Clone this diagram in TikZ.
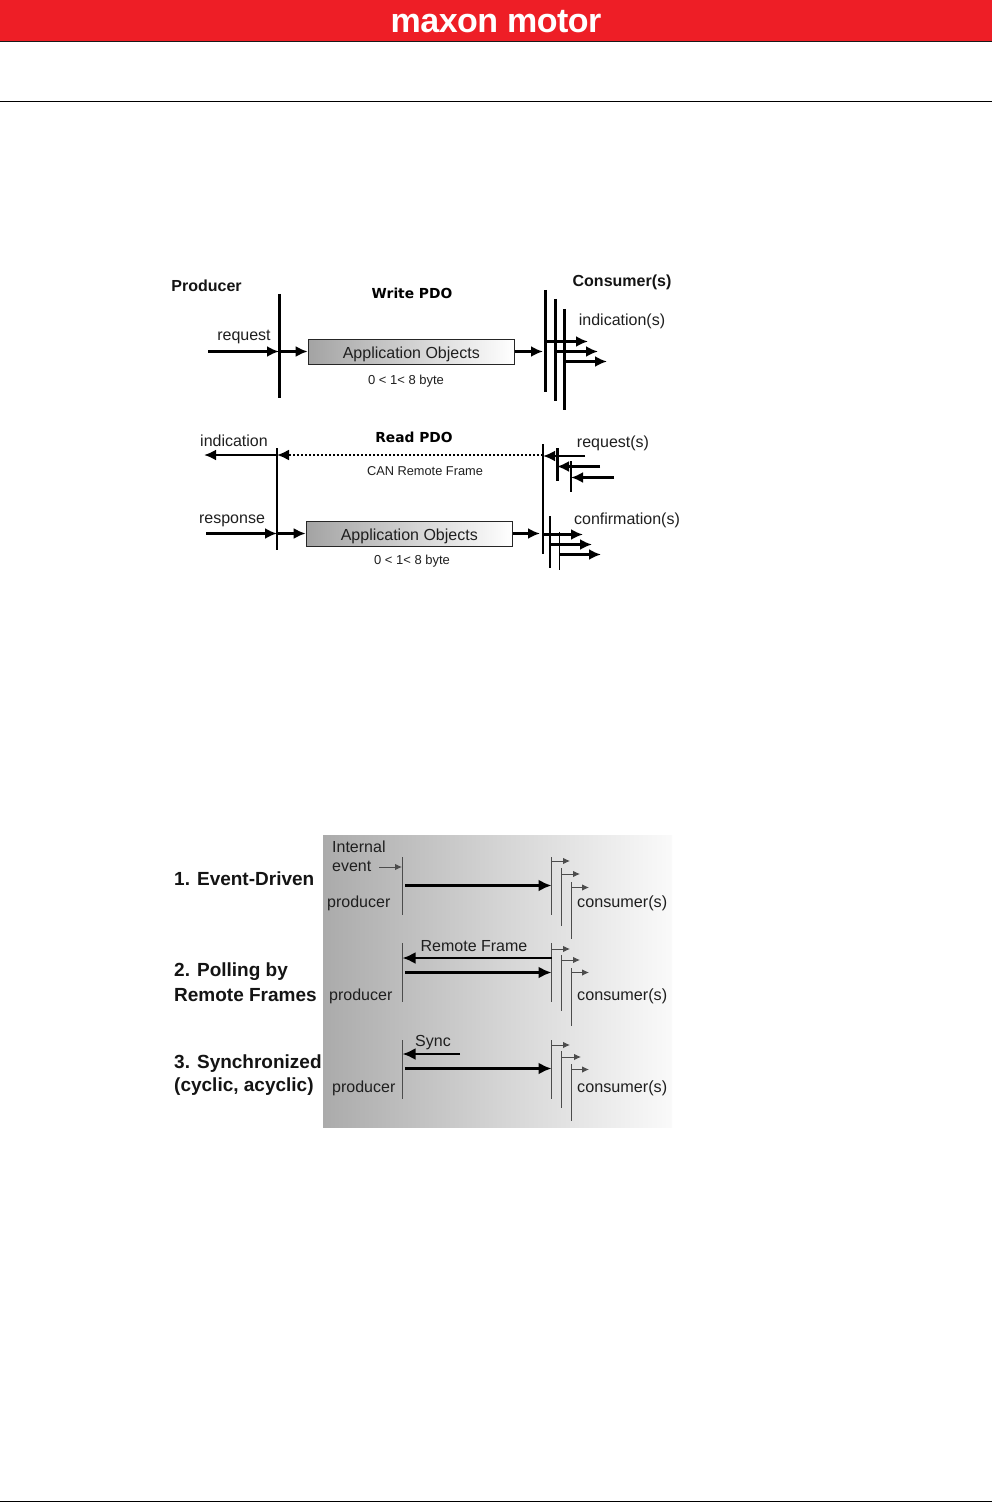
\documentclass[tikz,border=0pt]{standalone}
\usepackage{fontspec}
\setmainfont{Liberation Sans}
\newfontfamily\pdofont{DejaVu Sans}
\usetikzlibrary{arrows.meta}
\definecolor{maxred}{RGB}{238,30,38}
\tikzset{
  x=1pt,y=-1pt,
  lab/.style={inner sep=0pt,font=\fontsize{#1}{#1}\selectfont,text=black!88},
  lab/.default=16,
  head/.style={inner sep=0pt,font=\fontsize{#1}{#1}\selectfont\bfseries,text=black!92},
  head/.default=16,
  pdo/.style={inner sep=0pt,font=\fontsize{13.8}{13.8}\pdofont\bfseries},
  bar/.style={line width=3pt,black},
  barthin/.style={line width=2.2pt,black},
  fl/.style={line width=2.7pt,black,-{Latex[length=12pt,width=11pt]}},
  hair/.style={line width=0.9pt,black!70},
  thick arrow/.style={line width=2.5pt,black,-{Latex[length=13pt,width=12pt]}},
  tiny arrow/.style={line width=0.9pt,black!70,-{Latex[length=7pt,width=6.5pt]}},
  objbox/.style={draw=black!85,line width=0.7pt,left color=black!36,right color=white,minimum width=206.5pt,minimum height=25pt,inner sep=0pt,text depth=0pt,font=\fontsize{16}{16}\selectfont,text=black!88},
}
\begin{document}
\begin{tikzpicture}
\useasboundingbox (0,0) rectangle (992,1503);
\fill[white] (0,0) rectangle (992,1503);
% header
\fill[maxred] (0,0) rectangle (992,41);
\draw[line width=1.6pt,black!90] (0,41.5) -- (992,41.5);
\node[inner sep=0pt,text=white,font=\fontsize{34}{34}\selectfont\bfseries] (brand) at (496,21.5) {\addfontfeature{LetterSpace=-1.5}maxon motor};
\draw[line width=1pt] (0,101.5) -- (992,101.5);
\draw[line width=1pt] (0,1501.5) -- (992,1501.5);

% ---- Write PDO
\node[head=16] (producer) at (206.5,286) {Producer};
\node[head=16] (consumers) at (622,282.5) {Consumer(s)};
\node[pdo] (wpdo) at (412,293) {Write PDO};
\node[lab=16] (req) at (244,337) {request};
\node[lab=16] (ind) at (622,321) {indication(s)};
\node[objbox] (aow) at (411.3,351.5) {\raisebox{-2pt}{Application Objects}};
\node[lab=13] (bw) at (406,381) {0 < 1< 8 byte};
\coordinate (wpt) at (279,294); \coordinate (wpb) at (279,398);
\coordinate (wc1t) at (545,290); \coordinate (wc1b) at (545,392);
\coordinate (wc2t) at (555,299); \coordinate (wc2b) at (555,401);
\coordinate (wc3t) at (564,309); \coordinate (wc3b) at (564,410);
\draw[bar] (wpt) -- (wpb);
\draw[bar] (wc1t) -- (wc1b);
\draw[bar] (wc2t) -- (wc2b);
\draw[bar] (wc3t) -- (wc3b);
\coordinate (wrs) at (208,351.5); \coordinate (wre) at (279,351.5);
\coordinate (wi1) at (545,341.5); \coordinate (wi1e) at (588,341.5);
\coordinate (wi2) at (555,351.5); \coordinate (wi2e) at (598,351.5);
\coordinate (wi3) at (564,361.5); \coordinate (wi3e) at (607,361.5);
\coordinate (wce) at (543,351.5);
\draw[fl] (wrs) -- (wre);
\draw[fl] (wre) -- (aow.west);
\draw[fl] (aow.east) -- (wce);
\draw[fl] (wi1) -- (wi1e);
\draw[fl] (wi2) -- (wi2e);
\draw[fl] (wi3) -- (wi3e);

% ---- Read PDO
\node[pdo] (rpdo) at (414,437) {Read PDO};
\node[lab=16] (indi) at (234,441) {indication};
\node[lab=16] (resp) at (232,520.5) {response};
\node[lab=16] (reqs) at (613,443.5) {request(s)};
\node[lab=16] (conf) at (627,520.5) {confirmation(s)};
\node[lab=12.8] (crf) at (425,471) {CAN Remote Frame};
\node[objbox] (aor) at (409.3,533.5) {\raisebox{-2pt}{Application Objects}};
\node[lab=13] (br) at (412,561) {0 < 1< 8 byte};
\coordinate (rpt) at (277,448); \coordinate (rpb) at (277,550);
\coordinate (rct) at (543,444); \coordinate (rcb) at (543,554);
\coordinate (rq1t) at (557,448); \coordinate (rq1b) at (557,481);
\coordinate (rq2t) at (571,461); \coordinate (rq2b) at (571,492);
\coordinate (rf1t) at (550,516); \coordinate (rf1b) at (550,568);
\coordinate (rf2t) at (559.5,532); \coordinate (rf2b) at (559.5,570);
\draw[barthin] (rpt) -- (rpb);
\draw[barthin] (rct) -- (rcb);
\draw[bar] (rq1t) -- (rq1b);
\draw[barthin] (rq2t) -- (rq2b);
\draw[barthin] (rf1t) -- (rf1b);
\draw[line width=1.3pt] (rf2t) -- (rf2b);
\coordinate (ra) at (277,455); \coordinate (rae) at (204,455);
\coordinate (rd) at (543,455); \coordinate (rpa) at (277,455);
\coordinate (rq1s) at (585,456); \coordinate (rq1e) at (543,456);
\coordinate (rq2s) at (600,466.5); \coordinate (rq2e) at (557,466.5);
\coordinate (rq3s) at (614,477.5); \coordinate (rq3e) at (571,477.5);
\draw[fl] (ra) -- (rae);
\draw[line width=2pt,dotted,black,-{Latex[length=12pt,width=11pt]}] (rd) -- (rpa);
\draw[fl] (rq1s) -- (rq1e);
\draw[fl] (rq2s) -- (rq2e);
\draw[fl] (rq3s) -- (rq3e);
\coordinate (rrs) at (206,533.5); \coordinate (rre) at (277,533.5);
\coordinate (rce) at (540,533.5);
\coordinate (rf1) at (543,534.5); \coordinate (rf1e) at (583,534.5);
\coordinate (rf2) at (550,544.5); \coordinate (rf2e) at (592,544.5);
\coordinate (rf3) at (559,554.5); \coordinate (rf3e) at (601,554.5);
\draw[fl] (rrs) -- (rre);
\draw[fl] (rre) -- (aor.west);
\draw[fl] (aor.east) -- (rce);
\draw[fl] (rf1) -- (rf1e);
\draw[fl] (rf2) -- (rf2e);
\draw[fl] (rf3) -- (rf3e);

% ---- Lower panel
\shade[left color=black!33,right color=black!2,middle color=black!17] (323,835) rectangle (672,1127);
\node[head=19] (t1) at (174,878.5) [anchor=west] {1. Event-Driven};
\node[head=19] (t2a) at (174,972) [anchor=west] {2. Polling by};
\node[head=19] (t2b) at (174,995) [anchor=west] {Remote Frames};
\node[head=19] (t3a) at (174,1064) [anchor=west] {3. Synchronized};
\node[head=19] (t3b) at (174,1087) [anchor=west] {(cyclic, acyclic)};
\node[lab=16,anchor=west] (ie1) at (332,847) {Internal};
\node[lab=16,anchor=west] (ie2) at (332,866) {event};
\node[lab=16,anchor=west] (p1) at (327,903) {producer};
\node[lab=16,anchor=west] (p2) at (329,996) {producer};
\node[lab=16,anchor=west] (p3) at (332,1088) {producer};
\node[lab=16.2,anchor=west] (c1) at (577,903) {consumer(s)};
\node[lab=16.2,anchor=west] (c2) at (577,996) {consumer(s)};
\node[lab=16.2,anchor=west] (c3) at (577,1088) {consumer(s)};
\node[lab=16] (rfl) at (474,946) {Remote Frame};
\node[lab=16] (syn) at (433,1042.5) {Sync};

% internal event arrow
\coordinate (ies) at (379,867); \coordinate (iee) at (402,867);
\draw[tiny arrow] (ies) -- (iee);
% row 1
\coordinate (a1pt) at (402.5,857); \coordinate (a1pb) at (402.5,915);
\coordinate (a1at) at (551.5,857); \coordinate (a1ab) at (551.5,915);
\coordinate (a1bt) at (561,868); \coordinate (a1bb) at (561,926);
\coordinate (a1ct) at (571,882); \coordinate (a1cb) at (571,939);
\foreach \n in {a1p,a1a,a1b,a1c} \draw[hair] (\n t) -- (\n b);
\coordinate (a1s) at (405,885.5); \coordinate (a1e) at (551.5,885.5);
\draw[thick arrow] (a1s) -- (a1e);
\coordinate (a1ax) at (551.5,861); \coordinate (a1axe) at (570,861);
\coordinate (a1bx) at (561,874); \coordinate (a1bxe) at (580,874);
\coordinate (a1cx) at (571,887.5); \coordinate (a1cxe) at (589,887.5);
\draw[tiny arrow] (a1ax) -- (a1axe);
\draw[tiny arrow] (a1bx) -- (a1bxe);
\draw[tiny arrow] (a1cx) -- (a1cxe);
% row 2
\coordinate (a2pt) at (402.5,943); \coordinate (a2pb) at (402.5,1002);
\coordinate (a2at) at (551.5,943); \coordinate (a2ab) at (551.5,1002);
\coordinate (a2bt) at (561,955); \coordinate (a2bb) at (561,1011);
\coordinate (a2ct) at (571,968); \coordinate (a2cb) at (571,1026);
\foreach \n in {a2p,a2a,a2b,a2c} \draw[hair] (\n t) -- (\n b);
\coordinate (a2rs) at (551.5,958); \coordinate (a2re) at (402.5,958);
\coordinate (a2s) at (405,972.5); \coordinate (a2e) at (551.5,972.5);
\draw[thick arrow] (a2rs) -- (a2re);
\draw[thick arrow] (a2s) -- (a2e);
\coordinate (a2ax) at (551.5,949); \coordinate (a2axe) at (570,949);
\coordinate (a2bx) at (561,960); \coordinate (a2bxe) at (580,960);
\coordinate (a2cx) at (571,972.5); \coordinate (a2cxe) at (589,972.5);
\draw[tiny arrow] (a2ax) -- (a2axe);
\draw[tiny arrow] (a2bx) -- (a2bxe);
\draw[tiny arrow] (a2cx) -- (a2cxe);
% row 3
\coordinate (a3pt) at (402.5,1040); \coordinate (a3pb) at (402.5,1099);
\coordinate (a3at) at (551.5,1040); \coordinate (a3ab) at (551.5,1099);
\coordinate (a3bt) at (561,1051); \coordinate (a3bb) at (561,1108);
\coordinate (a3ct) at (571,1064); \coordinate (a3cb) at (571,1121);
\foreach \n in {a3p,a3a,a3b,a3c} \draw[hair] (\n t) -- (\n b);
\coordinate (a3ss) at (460,1054); \coordinate (a3se) at (402.5,1054);
\coordinate (a3s) at (405,1068.5); \coordinate (a3e) at (551.5,1068.5);
\draw[thick arrow] (a3ss) -- (a3se);
\draw[thick arrow] (a3s) -- (a3e);
\coordinate (a3ax) at (551.5,1045); \coordinate (a3axe) at (570,1045);
\coordinate (a3bx) at (561,1057); \coordinate (a3bxe) at (581,1057);
\coordinate (a3cx) at (571,1069.5); \coordinate (a3cxe) at (589,1069.5);
\draw[tiny arrow] (a3ax) -- (a3axe);
\draw[tiny arrow] (a3bx) -- (a3bxe);
\draw[tiny arrow] (a3cx) -- (a3cxe);
\end{tikzpicture}
\end{document}
